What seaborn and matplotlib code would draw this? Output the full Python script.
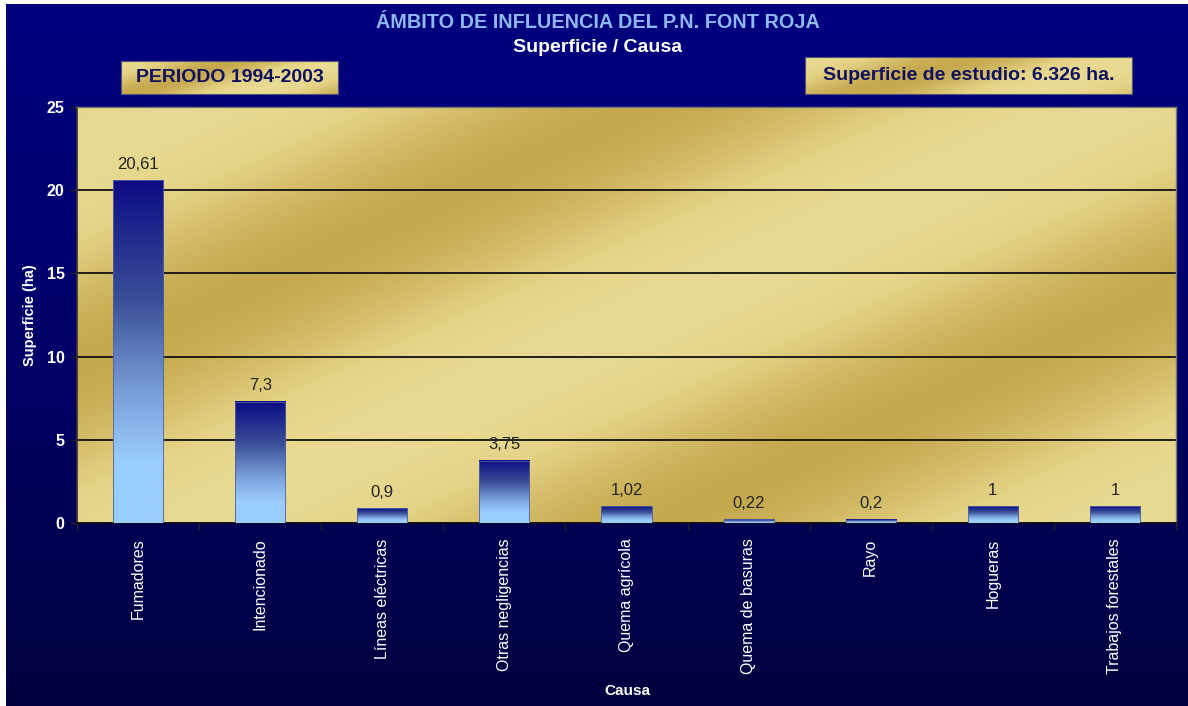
import numpy as np
import pandas as pd
import matplotlib
matplotlib.use("Agg")
import matplotlib.pyplot as plt
from matplotlib.colors import LinearSegmentedColormap
import seaborn as sns

# ---- data ----
causas = ["Fumadores", "Intencionado", "Líneas eléctricas", "Otras negligencias",
          "Quema agrícola", "Quema de basuras", "Rayo", "Hogueras", "Trabajos forestales"]
superficie = [20.61, 7.3, 0.9, 3.75, 1.02, 0.22, 0.2, 1, 1]
y_ticks = [0, 5, 10, 15, 20, 25]

title = "ÁMBITO DE INFLUENCIA DEL P.N. FONT ROJA"
subtitle = "Superficie / Causa"
box_left_text = "PERIODO 1994-2003"
box_right_text = "Superficie de estudio: 6.326 ha."

sns.set_theme(style="white")
plt.rcParams['font.family'] = ['Liberation Sans', 'DejaVu Sans']

W, H = 1188, 706
fig = plt.figure(figsize=(W / 100, H / 100), dpi=100, facecolor="white")

# ---- figure background gradient (navy) ----
bg = fig.add_axes([6 / W, 0, 1 - 6 / W, 1 - 4 / H], zorder=-10)
bg.axis("off")
navy_cmap = LinearSegmentedColormap.from_list("navy", ["#000080", "#000068", "#00003e"])
bg.imshow(np.linspace(0, 1, 256).reshape(-1, 1), aspect="auto", cmap=navy_cmap,
          extent=[0, 1, 0, 1], interpolation="bicubic")
bg.set_xlim(0, 1); bg.set_ylim(0, 1)

gold_cmap = LinearSegmentedColormap.from_list("gold", ["#E8DA92", "#E4D386", "#D6BF6C", "#C6A94E"])


def gold_image(px_w, px_h, x0, y0, period=930.0, phase=880.0, slope=2.2):
    xs = np.arange(px_w) + x0
    ys = np.arange(px_h) + y0
    X, Y = np.meshgrid(xs, ys)
    s = X + slope * Y
    val = 0.5 + 0.5 * np.cos(2 * np.pi * (s - phase) / period)  # 1 = dark
    return val


# ---- plot area ----
L, R, T, B = 77, 1176, 107, 523
pos = [L / W, (H - B) / H, (R - L) / W, (B - T) / H]

ax_gold = fig.add_axes(pos, zorder=0)
ax_gold.axis("off")
img = gold_image(R - L, B - T, L, T)
ax_gold.imshow(img, aspect="auto", cmap=gold_cmap, vmin=0, vmax=1,
               extent=[0, 1, 0, 1], interpolation="bilinear")
ax_gold.set_xlim(0, 1); ax_gold.set_ylim(0, 1)

ax = fig.add_axes(pos, zorder=1)
ax.patch.set_visible(False)

df = pd.DataFrame({"Causa": causas, "Superficie": superficie})
sns.barplot(data=df, x="Causa", y="Superficie", ax=ax, width=0.41,
            color="#3050A0", saturation=1, zorder=3)

bar_cmap = LinearSegmentedColormap.from_list(
    "bar", [(0.0, "#0c0c84"), (0.35, "#3a4f98"), (0.62, "#7a9fd8"), (0.82, "#99ccff"), (1.0, "#99ccff")])
grad = np.linspace(0, 1, 256).reshape(-1, 1)
for p in ax.patches:
    x0, w, h = p.get_x(), p.get_width(), p.get_height()
    ax.imshow(grad, extent=[x0, x0 + w, 0, h], aspect="auto", cmap=bar_cmap,
              zorder=3, interpolation="bilinear")
    p.set_facecolor("none")
    p.set_edgecolor("#5060a0")
    p.set_linewidth(0.6)
    p.set_zorder(4)

labels = [f"{v:g}".replace(".", ",") for v in superficie]
ax.bar_label(ax.containers[0], labels=labels, padding=6, color="#222222", fontsize=12)

ax.set_xlim(-0.5, len(causas) - 0.5)
ax.set_ylim(0, 25)
ax.set_aspect("auto")
ax.set_yticks(y_ticks)
ax.set_yticklabels([str(t) for t in y_ticks], color="white", fontsize=11.5, fontweight="bold")
ax.yaxis.grid(True, color="#111111", linewidth=1.3)
ax.set_axisbelow(True)
ax.tick_params(axis="y", which="major", direction="out", length=5, width=1, color="#222222",
               left=True, pad=4)

ax.set_xticks(range(len(causas)))
ax.set_xticklabels(causas, rotation=90, color="white", fontsize=11.5, va="top", ha="center")
ax.set_xticks(np.arange(-0.5, len(causas)), minor=True)
ax.tick_params(axis="x", which="major", length=0, pad=11)
ax.tick_params(axis="x", which="minor", direction="out", length=5, width=1, color="#222222", bottom=True)

for side in ["top", "right"]:
    ax.spines[side].set_visible(True)
    ax.spines[side].set_color("#777777")
    ax.spines[side].set_linewidth(1)
ax.spines["left"].set_color("#333333")
ax.spines["bottom"].set_color("#111111")
ax.spines["bottom"].set_linewidth(1.3)

ax.set_xlabel("Causa", color="white", fontsize=11, fontweight="bold")
ax.xaxis.set_label_coords((627 - L) / (R - L), -(684 - B) / (B - T))
ax.set_ylabel("Superficie (ha)", color="white", fontsize=10.5, fontweight="bold")
ax.yaxis.set_label_coords(-(L - 37) / (R - L), (B - 315) / (B - T))

# ---- titles ----
fig.text(598 / W, 1 - 23 / H, title, color="#8fbaf0", fontsize=14.3, fontweight="bold",
         ha="center", va="center")
fig.text(598 / W, 1 - 48 / H, subtitle, color="white", fontsize=14, fontweight="bold",
         ha="center", va="center")


# ---- gold boxes ----
def gold_box(x0, x1, y0, y1, text):
    bax = fig.add_axes([x0 / W, (H - y1) / H, (x1 - x0) / W, (y1 - y0) / H], zorder=2)
    im = gold_image(x1 - x0, y1 - y0, 0, 0, period=(x1 - x0) * 1.05, phase=(x1 - x0) * 0.5, slope=3.0)
    bax.imshow(im, aspect="auto", cmap=gold_cmap, vmin=0, vmax=1, extent=[0, 1, 0, 1],
               interpolation="bilinear")
    bax.set_xlim(0, 1); bax.set_ylim(0, 1)
    bax.set_xticks([]); bax.set_yticks([])
    for s in bax.spines.values():
        s.set_color("#55557a")
        s.set_linewidth(0.8)
    bax.text(0.5, 0.5, text, transform=bax.transAxes, ha="center", va="center",
             color="#101060", fontsize=14, fontweight="bold")


gold_box(121, 338, 61, 94, box_left_text)
gold_box(805, 1132, 57, 94, box_right_text)

fig.savefig("out.png", dpi=100, facecolor=fig.get_facecolor())
